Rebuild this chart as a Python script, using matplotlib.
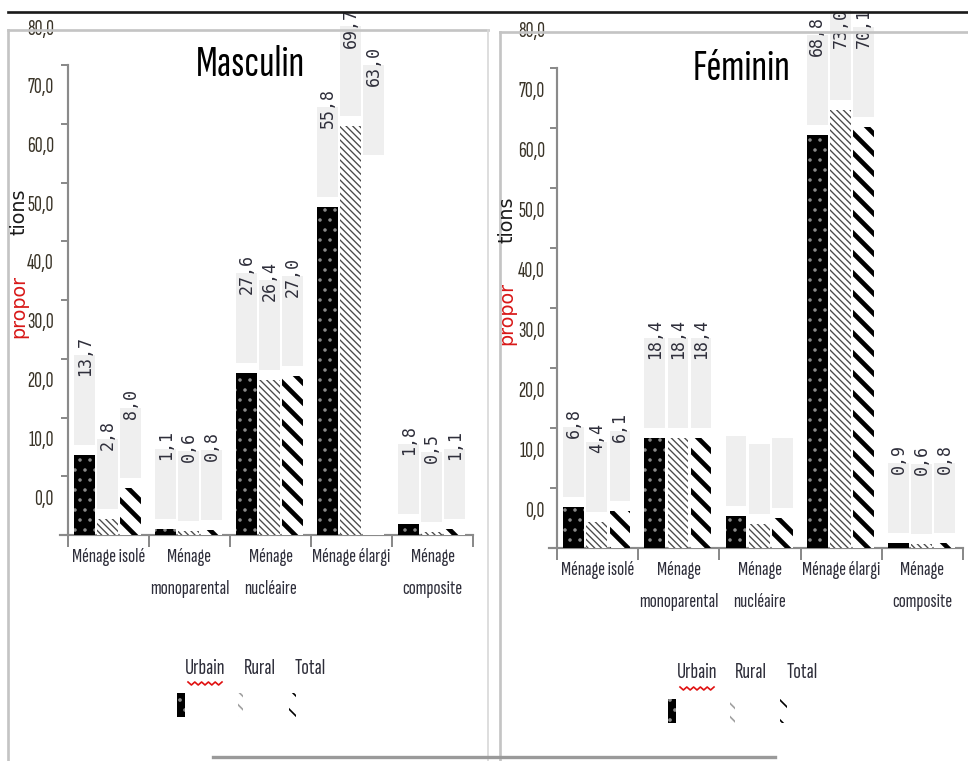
import matplotlib
matplotlib.use("Agg")
import matplotlib.pyplot as plt
import numpy as np
from matplotlib.patches import Rectangle
from matplotlib.lines import Line2D
from matplotlib.transforms import offset_copy

W, H, DPI = 969, 761, 120

# ---- data -------------------------------------------------------------
categories = ["Ménage isolé", "Ménage\nmonoparental", "Ménage\nnucléaire",
              "Ménage élargi", "Ménage\ncomposite"]
series = ["Urbain", "Rural", "Total"]

masc_urbain = [13.7, 1.1, 27.6, 55.8, 1.8]
masc_rural = [2.8, 0.6, 26.4, 69.7, 0.5]
masc_total = [8.0, 0.8, 27.0, 63.0, 1.1]

fem_urbain = [6.8, 18.4, 5.3, 68.8, 0.9]
fem_rural = [4.4, 18.4, 4.0, 73.0, 0.6]
fem_total = [6.1, 18.4, 5.0, 70.1, 0.8]

y_ticks = [0, 10, 20, 30, 40, 50, 60, 70, 80]
y_tick_labels = ["0,0", "10,0", "20,0", "30,0", "40,0", "50,0", "60,0", "70,0", "80,0"]

# ---- styling ----------------------------------------------------------
COND = ["Sofia Sans Extra Condensed", "Oswald", "DejaVu Sans"]
MONO = ["DejaVu Sans Mono"]
TXT = "#2e2e3a"

styles = {
    "Urbain": dict(facecolor="black", edgecolor="#8c8c8c", hatch="..", hlw=0.9),
    "Rural": dict(facecolor="white", edgecolor="#4a4a4a", hatch="\\\\\\\\\\\\", hlw=0.8),
    "Total": dict(facecolor="white", edgecolor="black", hatch="\\\\", hlw=2.8),
}
swatch_edge = {"Urbain": "#8c8c8c", "Rural": "#a0a0a0", "Total": "black"}
swatch_face = {"Urbain": "black", "Rural": "white", "Total": "white"}
swatch_hatch = {"Urbain": "..", "Rural": "\\\\\\", "Total": "\\\\"}
swatch_w = {"Urbain": 8, "Rural": 5, "Total": 7}
offsets = [-0.295, -0.01, 0.275]
bar_w = 0.255

fig = plt.figure(figsize=(W / DPI, H / DPI), dpi=DPI)
fig.patch.set_facecolor("white")


def fx(x):
    return x / W


def fy(y):
    return 1 - y / H


panels = [
    dict(title="Masculin", values=[masc_urbain, masc_rural, masc_total],
         rect=(68, 65, 473, 535), title_xy=(251, 64), tick_dx=-14,
         ylab_x=19, tions=212, propor=306,
         legend_y=668, legend_x=[205, 260, 310], swatch_x=[177, 238, 289],
         swatch_y=705, blank={(3, 2)}, no_text=set()),
    dict(title="Féminin", values=[fem_urbain, fem_rural, fem_total],
         rect=(557, 68, 963, 548), title_xy=(742, 68), tick_dx=-12,
         ylab_x=507, tions=220, propor=313,
         legend_y=673, legend_x=[697, 751, 802], swatch_x=[668, 730, 780],
         swatch_y=711, blank=set(), no_text={2}),
]

for p in panels:
    x0, y0, x1, y1 = p["rect"]
    ax = fig.add_axes([fx(x0), fy(y1), fx(x1 - x0), (y1 - y0) / H])
    ax.set_xlim(-0.5, len(categories) - 0.5)
    ax.set_ylim(0, 80)
    ax.patch.set_alpha(0)
    for s in ("top", "right"):
        ax.spines[s].set_visible(False)
    for s in ("left", "bottom"):
        ax.spines[s].set_color("#8a8a8a")
        ax.spines[s].set_linewidth(1.3)
    ax.spines["bottom"].set_bounds(-0.6, len(categories) - 0.5)

    ax.set_yticks(y_ticks)
    ax.set_yticklabels([])
    ax.tick_params(axis="y", length=4, width=1.2, color="#8a8a8a", direction="out")
    ax.set_xticks(np.arange(len(categories) + 1) - 0.5)
    ax.set_xticklabels([])
    ax.tick_params(axis="x", length=7, width=1.2, color="#8a8a8a", direction="out")

    px_per_unit = (y1 - y0) / 80.0
    top_limit = 80 + (y0 - 8) / px_per_unit  # keep labels inside the canvas

    # y tick labels, set off above their ticks
    lab_tr = offset_copy(ax.get_yaxis_transform(), fig=fig, x=p["tick_dx"], y=36, units="dots")
    for v, t in zip(y_ticks, y_tick_labels):
        ax.text(0, v, t, transform=lab_tr, ha="right", va="center",
                family=COND, fontsize=13, color="#3a3428", clip_on=False)

    xs = np.arange(len(categories))
    for si, (name, vals) in enumerate(zip(series, p["values"])):
        st = styles[name]
        plt.rcParams["hatch.linewidth"] = st["hlw"]
        bars = ax.bar(xs + offsets[si], vals, width=bar_w,
                      facecolor=st["facecolor"], edgecolor=st["edgecolor"],
                      hatch=st["hatch"], linewidth=0, zorder=3)
        for ci, (b, v) in enumerate(zip(bars, vals)):
            if hasattr(b, "set_hatch_linewidth"):
                b.set_hatch_linewidth(st["hlw"])
            if (ci, si) in p["blank"]:
                b.set_facecolor("white")
                b.set_hatch(None)
            label = f"{v:.1f}".replace(".", ",")
            box_h = (20 * len(label) + 10) / px_per_unit
            gap = 10 / px_per_unit
            bx = b.get_x()
            ax.add_patch(Rectangle((bx, v + gap), bar_w, box_h,
                                   facecolor="#efefef", edgecolor="none",
                                   zorder=2, clip_on=False))
            if ci not in p["no_text"]:
                ty = min(v + gap + box_h + 19 / px_per_unit, top_limit)
                ax.text(bx + bar_w / 2, ty, label,
                        rotation=90, ha="center", va="top", family=MONO,
                        fontsize=10, color=TXT, zorder=4, clip_on=False)

    # category labels under the axis
    cat_tr = offset_copy(ax.get_xaxis_transform(), fig=fig, y=-13, units="dots")
    for ci, c in enumerate(categories):
        ax.text(ci, 0, c, transform=cat_tr, ha="center", va="top",
                family=COND, fontsize=12.5, color=TXT, linespacing=2.0)

    # panel title
    fig.text(fx(p["title_xy"][0]), fy(p["title_xy"][1]), p["title"],
             ha="center", va="center", family=COND, fontsize=27, color="black")

    # y axis title
    fig.text(fx(p["ylab_x"]), fy(p["tions"]), "tions", rotation=90,
             ha="center", va="center", fontsize=11.5, color="#1a1a1a",
             family="DejaVu Sans")
    fig.text(fx(p["ylab_x"]), fy(p["propor"]), "propor", rotation=90,
             ha="center", va="center", fontsize=11.5, color="#d81818",
             family="DejaVu Sans")

    # legend: names above small swatches
    plt.rcParams["hatch.linewidth"] = 1.0
    for si, name in enumerate(series):
        fig.text(fx(p["legend_x"][si]), fy(p["legend_y"]), name, ha="center",
                 va="center", family=COND, fontsize=13.5, color=TXT)
        sw = Rectangle((fx(p["swatch_x"][si]), fy(p["swatch_y"] + 12)),
                       swatch_w[name] / W, 24 / H, transform=fig.transFigure,
                       facecolor=swatch_face[name], edgecolor=swatch_edge[name],
                       hatch=swatch_hatch[name], linewidth=0)
        fig.add_artist(sw)
    # spelling squiggle under "Urbain"
    ux = p["legend_x"][0]
    zx = np.linspace(ux - 17, ux + 17, 11)
    zy = p["legend_y"] + 14 + np.tile([0, 3], 6)[:11]
    fig.add_artist(Line2D(fx(zx), fy(zy), transform=fig.transFigure,
                          color="#e01010", lw=1.0))

# frames around the two panels
frame = "#c4c4c4"
fig.add_artist(Line2D([fx(8), fx(969)], [fy(12), fy(12)], color="#1a1a1a", lw=1.6))
fig.add_artist(Line2D([fx(8), fx(488)], [fy(30), fy(30)], color=frame, lw=1.6))
fig.add_artist(Line2D([fx(8), fx(8)], [fy(30), fy(761)], color=frame, lw=1.6))
fig.add_artist(Line2D([fx(488), fx(488)], [fy(30), fy(761)], color="#d8d8d8", lw=1.0))
fig.add_artist(Line2D([fx(500), fx(969)], [fy(32), fy(32)], color=frame, lw=1.6))
fig.add_artist(Line2D([fx(500), fx(500)], [fy(32), fy(761)], color=frame, lw=1.6))
fig.add_artist(Line2D([fx(213), fx(775)], [fy(757), fy(757)], color="#9a9a9a", lw=2.0))

fig.savefig("out.png", dpi=DPI, facecolor="white")
